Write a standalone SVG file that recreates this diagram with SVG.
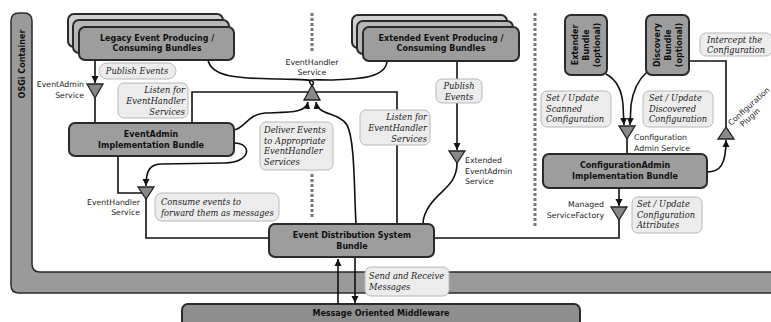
<svg xmlns="http://www.w3.org/2000/svg" width="771" height="322" viewBox="0 0 771 322">
<defs>
<marker id="ah" markerWidth="8" markerHeight="8" refX="7" refY="4" orient="auto" markerUnits="userSpaceOnUse">
<path d="M0,0.5 L7,4 L0,7.5 Z" fill="#111"/>
</marker>
<style>
.box{stroke:#2a2a2a;stroke-width:2}
.f1{fill:#9d9d9d}.f2{fill:#b6b6b6}.f3{fill:#cfcfcf}
.lbl{fill:#ececec;stroke:#b8b8b8;stroke-width:1}
.bt{font-family:"DejaVu Sans",sans-serif;font-weight:bold;font-size:8px;fill:#111;text-anchor:middle}
.it{font-family:"DejaVu Serif",serif;font-style:italic;font-size:8.3px;fill:#222}
.st{font-family:"DejaVu Sans",sans-serif;font-size:7.8px;fill:#222}
.tri{fill:#888;stroke:#222;stroke-width:1.3}
.ln{fill:none;stroke:#111;stroke-width:1.6}
.dash{fill:none;stroke:#777;stroke-width:3;stroke-dasharray:3 2}
</style>
</defs>
<rect width="771" height="322" fill="#fff"/>

<g id="osgi-container">
<path d="M11,21 Q11,13 19,13 L24,13 Q32,13 32,21 L32,264 Q32,272 40,272 L772,272 L772,293 L19,293 Q11,293 11,285 Z" fill="#9a9a9a" stroke="#2a2a2a" stroke-width="1.5"/>
<text class="bt" font-size="8.5" transform="translate(25,64) rotate(-90)">OSGi Container</text>
</g>

<g id="mom">
<rect x="182" y="304" width="398" height="30" rx="6" fill="#8e8e8e" stroke="#2a2a2a" stroke-width="2"/>
<text class="bt" x="381" y="316">Message Oriented Middleware</text>
</g>

<g id="separators">
<line class="dash" x1="312" y1="13" x2="312" y2="53"/>
<line class="dash" x1="312" y1="174" x2="312" y2="218"/>
<line class="dash" x1="535" y1="13" x2="535" y2="228"/>
</g>

<g id="connectors">
<path class="ln" d="M95,60 L95,83" marker-end="url(#ah)"/>
<path class="ln" d="M95,98 L95,123"/>
<path class="ln" d="M192,123 L192,92 L397,92 L397,224"/>
<path class="ln" d="M208,60 C212,80 250,78 280,79 C305,80 318,78 312,86"/>
<path class="ln" d="M387,61 C386,80 350,79 330,80 C310,80 306,78 312,86"/>
<path class="ln" d="M234,130 C245,128 248,114 265,113 C290,112 306,113 308,102" marker-end="url(#ah)"/>
<path class="ln" d="M356,224 C354,190 355,140 347,125 C339,112 318,116 316,102" marker-end="url(#ah)"/>
<path class="ln" d="M234,143 C252,143 252,162 225,163 L162,164 C150,164 146,170 146,186" marker-end="url(#ah)"/>
<path class="ln" d="M118,156 L118,193 L142,193"/>
<path class="ln" d="M146,199 L146,238 L269,238"/>
<path class="ln" d="M434,238 L619,238 L619,220"/>
<path class="ln" d="M619,188 L619,206" marker-end="url(#ah)"/>
<path class="ln" d="M457,61 L457,150" marker-end="url(#ah)"/>
<path class="ln" d="M457,163 C457,185 440,190 430,205 C425,212 423,218 423,224"/>
<path class="ln" d="M338,304 L338,259" marker-end="url(#ah)"/>
<path class="ln" d="M355,257 L355,303" marker-end="url(#ah)"/>
<path class="ln" d="M606,74 C617,80 622,90 623,105 L624,125" marker-end="url(#ah)"/>
<path class="ln" d="M647,72 C638,80 633,90 631,105 L630,125" marker-end="url(#ah)"/>
<path class="ln" d="M627,139 L627,154"/>
<path class="ln" d="M689,61 L726,61 L726,127"/>
<path class="ln" d="M707,172 C720,172 726,165 726,140" marker-end="url(#ah)"/>
</g>

<g id="services">
<polygon class="tri" points="87,84 103,84 95,98"/>
<text class="st" text-anchor="end"><tspan x="84" y="87">EventAdmin</tspan><tspan x="84" y="98">Service</tspan></text>
<polygon class="tri" points="312,85 304,100 320,100"/>
<text class="st" text-anchor="middle"><tspan x="312" y="65">EventHandler</tspan><tspan x="312" y="75">Service</tspan></text>
<polygon class="tri" points="138,187 154,187 146,199"/>
<text class="st" text-anchor="end"><tspan x="140" y="205">EventHandler</tspan><tspan x="140" y="215">Service</tspan></text>
<polygon class="tri" points="449,151 465,151 457,163"/>
<text class="st"><tspan x="465" y="163">Extended</tspan><tspan x="465" y="174">EventAdmin</tspan><tspan x="465" y="184">Service</tspan></text>
<polygon class="tri" points="619,126 635,126 627,139"/>
<text class="st"><tspan x="634" y="140">Configuration</tspan><tspan x="634" y="151">Admin Service</tspan></text>
<polygon class="tri" points="611,207 627,207 619,220"/>
<text class="st" text-anchor="end"><tspan x="604" y="207">Managed</tspan><tspan x="604" y="218">ServiceFactory</tspan></text>
<polygon class="tri" points="726,127 718,139 734,139"/>
<text class="st" font-size="6.6" transform="translate(731,126) rotate(-42)"><tspan x="0" y="0">Configuration</tspan><tspan x="8" y="9">Plugin</tspan></text>
</g>

<g id="legacy-bundles">
<rect class="box f3" x="68" y="14" width="155" height="33" rx="6"/>
<rect class="box f2" x="73" y="20" width="156" height="33" rx="6"/>
<rect class="box f1" x="79" y="27" width="155" height="33" rx="6"/>
<text class="bt"><tspan x="157" y="41">Legacy Event Producing /</tspan><tspan x="157" y="51">Consuming Bundles</tspan></text>
</g>

<g id="extended-bundles">
<rect class="box f3" x="352" y="15" width="155" height="33" rx="6"/>
<rect class="box f2" x="357" y="21" width="156" height="33" rx="6"/>
<rect class="box f1" x="363" y="27" width="156" height="34" rx="6"/>
<text class="bt"><tspan x="441" y="41">Extended Event Producing /</tspan><tspan x="441" y="51">Consuming Bundles</tspan></text>
</g>

<g id="eventadmin-impl">
<rect class="box f1" x="69" y="123" width="165" height="33" rx="6"/>
<text class="bt"><tspan x="151" y="137">EventAdmin</tspan><tspan x="151" y="148">Implementation Bundle</tspan></text>
</g>

<g id="eds-bundle">
<rect class="box f1" x="269" y="224" width="165" height="33" rx="6"/>
<text class="bt"><tspan x="352" y="238">Event Distribution System</tspan><tspan x="352" y="249">Bundle</tspan></text>
</g>

<g id="configadmin-impl">
<rect class="box f1" x="543" y="154" width="164" height="34" rx="6"/>
<text class="bt"><tspan x="625" y="168">ConfigurationAdmin</tspan><tspan x="625" y="179">Implementation Bundle</tspan></text>
</g>

<g id="extender-bundle">
<rect class="box f1" x="565" y="15" width="42" height="60" rx="6"/>
<text class="bt" transform="translate(586,45) rotate(-90)"><tspan x="0" y="-8">Extender</tspan><tspan x="0" y="3">Bundle</tspan><tspan x="0" y="14">(optional)</tspan></text>
</g>

<g id="discovery-bundle">
<rect class="box f1" x="646" y="15" width="43" height="60" rx="6"/>
<text class="bt" transform="translate(668,45) rotate(-90)"><tspan x="0" y="-8">Discovery</tspan><tspan x="0" y="3">Bundle</tspan><tspan x="0" y="14">(optional)</tspan></text>
</g>

<g id="labels">
<rect class="lbl" x="99" y="63" width="77" height="16" rx="8"/>
<text class="it" text-anchor="middle" x="137" y="74">Publish Events</text>

<rect class="lbl" x="118" y="83" width="70" height="35" rx="6"/>
<text class="it" text-anchor="end"><tspan x="185" y="93">Listen for</tspan><tspan x="185" y="104">EventHandler</tspan><tspan x="185" y="115">Services</tspan></text>

<rect class="lbl" x="360" y="110" width="70" height="35" rx="6"/>
<text class="it" text-anchor="end"><tspan x="427" y="120">Listen for</tspan><tspan x="427" y="131">EventHandler</tspan><tspan x="427" y="142">Services</tspan></text>

<rect class="lbl" x="260" y="122" width="73" height="48" rx="6"/>
<text class="it"><tspan x="264" y="133">Deliver Events</tspan><tspan x="264" y="144">to Appropriate</tspan><tspan x="264" y="154">EventHandler</tspan><tspan x="264" y="165">Services</tspan></text>

<rect class="lbl" x="436" y="79" width="46" height="24" rx="6"/>
<text class="it" text-anchor="middle"><tspan x="459" y="89">Publish</tspan><tspan x="459" y="100">Events</tspan></text>

<rect class="lbl" x="155" y="193" width="124" height="28" rx="7"/>
<text class="it"><tspan x="161" y="205">Consume events to</tspan><tspan x="161" y="216">forward them as messages</tspan></text>

<rect class="lbl" x="365" y="267" width="84" height="29" rx="6"/>
<text class="it"><tspan x="369" y="279">Send and Receive</tspan><tspan x="369" y="290">Messages</tspan></text>

<rect class="lbl" x="541" y="91" width="70" height="36" rx="6"/>
<text class="it"><tspan x="546" y="101">Set / Update</tspan><tspan x="546" y="112">Scanned</tspan><tspan x="546" y="122">Configuration</tspan></text>

<rect class="lbl" x="643" y="91" width="70" height="36" rx="6"/>
<text class="it"><tspan x="649" y="101">Set / Update</tspan><tspan x="649" y="112">Discovered</tspan><tspan x="649" y="122">Configuration</tspan></text>

<rect class="lbl" x="700" y="33" width="72" height="23" rx="6"/>
<text class="it"><tspan x="707" y="43">Intercept the</tspan><tspan x="707" y="53">Configuration</tspan></text>

<rect class="lbl" x="632" y="197" width="70" height="36" rx="6"/>
<text class="it"><tspan x="637" y="207">Set / Update</tspan><tspan x="637" y="218">Configuration</tspan><tspan x="637" y="228">Attributes</tspan></text>
</g>
</svg>
